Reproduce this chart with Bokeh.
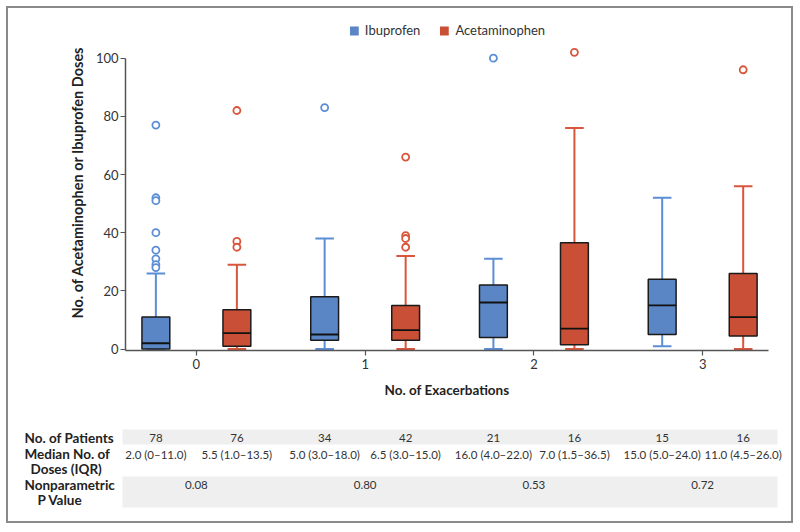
from bokeh.plotting import figure
from bokeh.models import ColumnDataSource, Range1d, FixedTicker, Legend, LegendItem
from bokeh.layouts import column
from bokeh.embed import file_html
from bokeh.resources import INLINE
from bokeh.core.properties import value

# ---------------- data ----------------
exacerbations = [0, 1, 2, 3]
drugs = ["Ibuprofen", "Acetaminophen"]

ibu_q1 = [0, 3, 4, 5]
ibu_med = [2, 5, 16, 15]
ibu_q3 = [11, 18, 22, 24]
ibu_lo = [0, 0, 0, 1]
ibu_hi = [26, 38, 31, 52]
ibu_out = [[77, 52, 51, 40, 34, 31, 29, 28], [83], [100], []]

ace_q1 = [1, 3, 1.5, 4.5]
ace_med = [5.5, 6.5, 7, 11]
ace_q3 = [13.5, 15, 36.5, 26]
ace_lo = [0, 0, 0, 0]
ace_hi = [29, 32, 76, 56]
ace_out = [[82, 37, 35], [66, 39, 38, 35], [102], [96]]

ibu_n = ["78", "34", "21", "15"]
ace_n = ["76", "42", "16", "16"]
ibu_iqr = ["2.0 (0\u201311.0)", "5.0 (3.0\u201318.0)", "16.0 (4.0\u201322.0)", "15.0 (5.0\u201324.0)"]
ace_iqr = ["5.5 (1.0\u201313.5)", "6.5 (3.0\u201315.0)", "7.0 (1.5\u201336.5)", "11.0 (4.5\u201326.0)"]
p_values = ["0.08", "0.80", "0.53", "0.72"]
row_labels = ["No. of Patients", "Median No. of", "Doses (IQR)", "Nonparametric", "P Value"]
y_ticks = [0, 20, 40, 60, 80, 100]

# ---------------- style / layout ----------------
FONT = "Lato"
BLUE_FILL = "#5a86c6"
BLUE_LINE = "#5b8ed6"
RED_FILL = "#c95036"
RED_LINE = "#d9553b"
DODGE = 0.24
BOX_W = 0.165
CAP_W = 0.11
X0, X1 = -0.42, 3.39
Y0, Y1 = -0.5, 115
FIG_W = 783
ORIGIN = 8                      # page x of the figures' left edge
B_LEFT, B_RIGHT = 117, 23
FRAME_W = FIG_W - B_LEFT - B_RIGHT
UX = FRAME_W / (X1 - X0)

p = figure(width=FIG_W, height=402, x_range=Range1d(X0, X1), y_range=Range1d(Y0, Y1),
           output_backend="svg", toolbar_location=None,
           min_border_left=B_LEFT, min_border_right=B_RIGHT, min_border_top=6, min_border_bottom=60)
p.frame_align = False
p.grid.visible = False
p.outline_line_color = None
p.background_fill_color = "white"


def draw(offset, q1, med, q3, lo, hi, outs, fill, line):
    xs = [g + offset for g in exacerbations]
    src = ColumnDataSource(dict(
        x=xs, q1=q1, med=med, q3=q3, lo=lo, hi=hi,
        xl=[x - BOX_W / 2 for x in xs], xr=[x + BOX_W / 2 for x in xs],
        cl=[x - CAP_W / 2 for x in xs], cr=[x + CAP_W / 2 for x in xs]))
    p.segment(x0="x", y0="q3", x1="x", y1="hi", source=src, line_color=line, line_width=2)
    p.segment(x0="x", y0="q1", x1="x", y1="lo", source=src, line_color=line, line_width=2)
    p.segment(x0="cl", y0="hi", x1="cr", y1="hi", source=src, line_color=line, line_width=2)
    p.segment(x0="cl", y0="lo", x1="cr", y1="lo", source=src, line_color=line, line_width=2)
    p.vbar(x="x", bottom="q1", top="q3", width=BOX_W, source=src,
           fill_color=fill, line_color="#1a1a1a", line_width=1.5)
    p.segment(x0="xl", y0="med", x1="xr", y1="med", source=src, line_color="#111111", line_width=1.8)
    ox, oy = [], []
    for x, o in zip(xs, outs):
        ox += [x] * len(o)
        oy += o
    p.scatter(ox, oy, marker="circle", size=7, fill_color="white", line_color=line, line_width=1.8)


draw(-DODGE, ibu_q1, ibu_med, ibu_q3, ibu_lo, ibu_hi, ibu_out, BLUE_FILL, BLUE_LINE)
draw(DODGE, ace_q1, ace_med, ace_q3, ace_lo, ace_hi, ace_out, RED_FILL, RED_LINE)

# legend swatches (not visible in the plot, only used by the legend)
nan = float("nan")
sw = ColumnDataSource(dict(x=[nan], t=[nan], b=[nan]))
r_ibu = p.vbar(x="x", top="t", bottom="b", width=0.1, source=sw, fill_color=BLUE_FILL, line_color=None)
r_ace = p.vbar(x="x", top="t", bottom="b", width=0.1, source=sw, fill_color=RED_FILL, line_color=None)
legend = Legend(items=[LegendItem(label=drugs[0], renderers=[r_ibu]),
                       LegendItem(label=drugs[1], renderers=[r_ace])],
                location="top_center", orientation="horizontal",
                margin=8, padding=4, spacing=18, glyph_width=11, glyph_height=11,
                label_standoff=6, label_height=12,
                label_text_font=FONT, label_text_font_size="13px", label_text_color="#333333",
                background_fill_alpha=0, border_line_color=None)
p.add_layout(legend)

# axes
p.yaxis.ticker = FixedTicker(ticks=y_ticks)
p.yaxis.bounds = (Y0, 100)
p.xaxis.ticker = FixedTicker(ticks=exacerbations)
for ax in (p.xaxis, p.yaxis):
    ax.axis_line_color = "#555555"
    ax.axis_line_width = 1.5
    ax.major_tick_line_color = "#555555"
    ax.major_tick_line_width = 1.2
    ax.major_tick_in = 0
    ax.major_tick_out = 5
    ax.minor_tick_line_color = None
    ax.major_label_text_font = FONT
    ax.major_label_text_font_size = "13px"
    ax.major_label_text_color = "#333333"
    ax.axis_label_text_font = FONT
    ax.axis_label_text_font_style = "bold"
    ax.axis_label_text_color = "#222222"
p.xaxis.axis_label = "No. of Exacerbations"
p.yaxis.axis_label = "No. of Acetaminophen or Ibuprofen Doses"
p.xaxis.axis_label_text_font_size = "13.5px"
p.yaxis.axis_label_text_font_size = "14.5px"
p.xaxis.major_label_standoff = 3
p.xaxis.axis_label_standoff = 10
p.yaxis.major_label_standoff = 2
p.yaxis.axis_label_standoff = 7

# ---------------- table below the chart ----------------
TX0 = X0 - B_LEFT / UX
TX1 = X1 + B_RIGHT / UX


def xv(page_x):
    return TX0 + (page_x - ORIGIN) / UX


t = figure(width=FIG_W, height=111, x_range=Range1d(TX0, TX1), y_range=Range1d(111, 0),
           output_backend="svg", toolbar_location=None, min_border=0)
t.frame_align = False
t.axis.visible = False
t.grid.visible = False
t.outline_line_color = None

t.quad(left=[xv(122), xv(122)], right=[xv(777), xv(777)], top=[19, 66], bottom=[34, 97],
       fill_color="#efefef", line_color=None)

xi = [g - DODGE for g in exacerbations]
xa = [g + DODGE for g in exacerbations]
txt_kw = dict(text_align="center", text_baseline="middle", text_font=value(FONT),
              text_font_size="11.5px", text_color="#333333")
t.text(x=xi + xa, y=[27] * 8, text=ibu_n + ace_n, **txt_kw)
t.text(x=xi + xa, y=[44] * 8, text=ibu_iqr + ace_iqr, **txt_kw)
t.text(x=exacerbations, y=[74] * 4, text=p_values, **txt_kw)

lab_kw = dict(text_align="left", text_baseline="middle", text_font=value(FONT),
              text_font_size="13.5px", text_font_style="bold", text_color="#222222")
t.text(x=[xv(24), xv(24), xv(30), xv(24), xv(37)], y=[27, 43, 58, 74, 89],
       text=row_labels, **lab_kw)

layout = column(p, t, styles={"border": "2px solid #8a8a8a", "margin": "6px 0 0 6px"})
open("out.html", "w").write(file_html(layout, INLINE))
